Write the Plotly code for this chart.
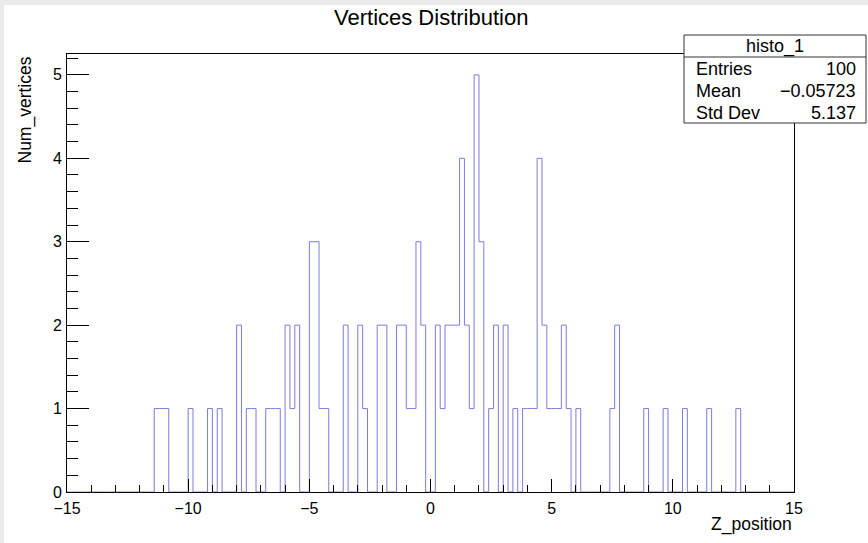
import plotly.graph_objects as go

# ---- data ----
x_low, x_high, n_bins = -15.0, 15.0, 150
# lower edges of non-empty bins and their contents
bin_low = [-11.4, -11.2, -11.0, -10.0, -9.2, -8.8, -8.0, -7.6, -7.4,
           -6.8, -6.6, -6.4, -6.0, -5.8, -5.6, -5.0, -4.8, -4.6, -4.4,
           -3.6, -3.0, -2.8, -2.2, -2.0, -1.4, -1.2, -1.0, -0.8, -0.6, -0.4,
           0.2, 0.4, 0.6, 0.8, 1.0, 1.2, 1.4, 1.6, 1.8, 2.0,
           2.4, 2.6, 3.0, 3.4, 3.8, 4.0, 4.2, 4.4, 4.6, 4.8, 5.0, 5.2,
           5.4, 5.6, 6.0, 7.4, 7.6, 8.8, 9.6, 10.4, 11.4, 12.6]
bin_count = [1, 1, 1, 1, 1, 1, 2, 1, 1,
             1, 1, 1, 2, 1, 2, 3, 3, 1, 1,
             2, 2, 1, 2, 2, 2, 2, 1, 1, 3, 2,
             2, 1, 2, 2, 2, 4, 2, 1, 5, 3,
             1, 2, 2, 1, 1, 1, 1, 4, 2, 1, 1, 1,
             2, 1, 1, 1, 2, 1, 1, 1, 1, 1]
x_ticks = [-15, -10, -5, 0, 5, 10, 15]
y_ticks = [0, 1, 2, 3, 4, 5]
title = "Vertices Distribution"
x_title = "Z_position"
y_title = "Num_vertices"
stats_name = "histo_1"
stats_labels = ["Entries", "Mean", "Std Dev"]
stats_values = ["100", "\u22120.05723", "5.137"]

# ---- build step outline ----
width = (x_high - x_low) / n_bins
counts = [0] * n_bins
for lo, c in zip(bin_low, bin_count):
    counts[int(round((lo - x_low) / width))] = c
edges = [x_low + i * width for i in range(n_bins + 1)]
ys = counts + [counts[-1]]

FONT = "Liberation Sans, Arial, Helvetica, sans-serif"
W, H = 868, 543
L, R, T, B = 67, 74, 54, 51
pw, ph = W - L - R, H - T - B


def px(x):
    return (x - L) / pw


def py(y):
    return (H - B - y) / ph


fig = go.Figure()
fig.add_trace(go.Scatter(x=edges, y=ys, mode="lines", line_shape="hv",
                         line=dict(color="#7c7cde", width=1),
                         hoverinfo="skip", showlegend=False))

shapes = [
    dict(type="rect", xref="paper", yref="paper", x0=px(0), x1=px(4),
         y0=py(H), y1=py(0), fillcolor="#ebebeb", line=dict(width=0), layer="above"),
    dict(type="rect", xref="paper", yref="paper", x0=px(0), x1=px(W),
         y0=py(5), y1=py(0), fillcolor="#ebebeb", line=dict(width=0), layer="above"),
    # stats box
    dict(type="rect", xref="paper", yref="paper", x0=px(684), x1=px(866),
         y0=py(123), y1=py(35), fillcolor="white",
         line=dict(color="#333333", width=1), layer="above"),
    dict(type="line", xref="paper", yref="paper", x0=px(684), x1=px(866),
         y0=py(57), y1=py(57), line=dict(color="#333333", width=1), layer="above"),
]

annotations = [
    dict(text=title, xref="paper", yref="paper", x=px(431), y=py(17),
         xanchor="center", yanchor="middle", showarrow=False,
         font=dict(family=FONT, size=22, color="black")),
    dict(text=x_title, xref="paper", yref="paper", x=px(794), y=py(524),
         xanchor="right", yanchor="middle", showarrow=False,
         font=dict(family=FONT, size=17.5, color="black")),
    dict(text=y_title, xref="paper", yref="paper", x=px(25), y=py(55),
         xanchor="center", yanchor="top", textangle=-90, showarrow=False,
         font=dict(family=FONT, size=17.5, color="black")),
    dict(text=stats_name, xref="paper", yref="paper", x=px(775), y=py(46),
         xanchor="center", yanchor="middle", showarrow=False,
         font=dict(family=FONT, size=18, color="black")),
]
row_y = [69, 91, 113]
for lab, val, yy in zip(stats_labels, stats_values, row_y):
    annotations.append(dict(text=lab, xref="paper", yref="paper", x=px(694), y=py(yy),
                            xanchor="left", yanchor="middle", showarrow=False,
                            font=dict(family=FONT, size=18, color="black")))
    annotations.append(dict(text=val, xref="paper", yref="paper", x=px(858), y=py(yy),
                            xanchor="right", yanchor="middle", showarrow=False,
                            font=dict(family=FONT, size=18, color="black")))

axis_common = dict(showgrid=False, zeroline=False, showline=True, mirror=True,
                   linecolor="black", linewidth=1, ticks="inside", tickcolor="black",
                   tickwidth=1, tickfont=dict(family=FONT, size=16, color="black"))

fig.update_layout(
    width=W, height=H, autosize=False,
    margin=dict(l=L, r=R, t=T, b=B, pad=0),
    paper_bgcolor="white", plot_bgcolor="white",
    xaxis=dict(range=[x_low, x_high], tickmode="array", tickvals=x_ticks,
               ticklen=13, ticklabelstandoff=2,
               minor=dict(ticks="inside", ticklen=7, dtick=1, tick0=-15,
                          tickcolor="black", tickwidth=1),
               **axis_common),
    yaxis=dict(range=[0, 5.25], tickmode="array", tickvals=y_ticks,
               ticklen=22, ticklabelstandoff=1,
               minor=dict(ticks="inside", ticklen=11, dtick=0.2, tick0=0,
                          tickcolor="black", tickwidth=1),
               **axis_common),
    shapes=shapes, annotations=annotations, showlegend=False,
)

fig.write_html("out.html", config={"displayModeBar": False},
               post_script="document.body.style.margin='0';document.body.style.overflow='hidden';")
